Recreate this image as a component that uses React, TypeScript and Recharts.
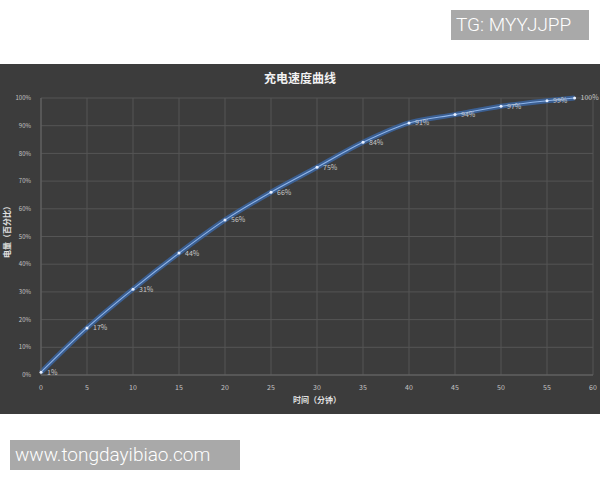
import React from 'react';
import { LineChart, Line, XAxis, YAxis, CartesianGrid, LabelList } from 'recharts';

const minutes = [0, 5, 10, 15, 20, 25, 30, 35, 40, 45, 50, 55, 58];
const charge = [1, 17, 31, 44, 56, 66, 75, 84, 91, 94, 97, 99, 100];
const xTicks = [0, 5, 10, 15, 20, 25, 30, 35, 40, 45, 50, 55, 60];
const yTicks = [0, 10, 20, 30, 40, 50, 60, 70, 80, 90, 100];
const title = '充电速度曲线';
const xLabel = '时间（分钟）';
const yLabel = '电量（百分比）';
const topTag = 'TG: MYYJJPP';
const bottomTag = 'www.tongdayibiao.com';

const data = minutes.map((m, i) => ({ m, v: charge[i] }));

const cjk = '"Noto Sans CJK SC", "Noto Sans", sans-serif';

const Dot = (props: any) => {
  const { cx, cy } = props;
  if (cx == null || cy == null) return null;
  return <circle cx={cx} cy={cy} r={1.5} fill="#e8f0ff" stroke="none" />;
};

const tagStyle: React.CSSProperties = {
  position: 'absolute',
  height: 30,
  background: '#a9a9a9',
  color: '#fff',
  fontFamily: 'Roboto, "Liberation Sans", sans-serif',
  fontWeight: 300,
  fontSize: 19,
  lineHeight: '30px',
  paddingLeft: 5,
  boxSizing: 'border-box',
  whiteSpace: 'nowrap',
};

export default function App() {
  return (
    <div style={{ position: 'absolute', left: 0, top: 0, width: 600, height: 480, background: '#fff', overflow: 'hidden' }}>
      <div style={{ ...tagStyle, left: 451, top: 10, width: 138 }}>{topTag}</div>
      <div style={{ ...tagStyle, left: 10, top: 440, width: 230 }}>{bottomTag}</div>
      <div style={{ position: 'absolute', left: 0, top: 64, width: 600, height: 350, background: '#3c3c3c' }}>
        <div style={{ position: 'absolute', left: 0, top: 5, width: 600, textAlign: 'center', color: '#f2f2f2', fontFamily: cjk, fontWeight: 700, fontSize: 12 }}>{title}</div>
        <div style={{ position: 'absolute', left: 7, top: 166, width: 0, height: 0 }}>
          <div style={{ position: 'absolute', left: 0, top: 0, transform: 'translate(-50%, -50%) rotate(-90deg)', color: '#e0e0e0', fontFamily: cjk, fontWeight: 700, fontSize: 8, whiteSpace: 'nowrap', lineHeight: '10px' }}>{yLabel}</div>
        </div>
        <LineChart width={600} height={350} data={data} margin={{ top: 34, right: 7, left: 0, bottom: 0 }}>
          <CartesianGrid stroke="#555555" strokeWidth={1} horizontal vertical />
          <XAxis
            dataKey="m"
            type="number"
            domain={[0, 60]}
            ticks={xTicks}
            height={39}
            axisLine={{ stroke: '#666' }}
            tickLine={false}
            tick={{ fill: '#c4c4c4', fontSize: 7, fontFamily: cjk }}
            tickMargin={4}
            label={{ value: xLabel, position: 'insideBottom', offset: 11, fill: '#e0e0e0', fontSize: 8, fontWeight: 700, fontFamily: cjk }}
          />
          <YAxis
            type="number"
            domain={[0, 100]}
            ticks={yTicks}
            width={41}
            axisLine={{ stroke: '#666' }}
            tickLine={false}
            tick={{ fill: '#c4c4c4', fontSize: 6, fontFamily: cjk }}
            tickMargin={4}
            tickFormatter={(v: number) => `${v}%`}
          />
          <Line type="monotone" dataKey="v" stroke="#3b68a8" strokeOpacity={0.8} strokeWidth={5} dot={false} activeDot={false} isAnimationActive={false} />
          <Line type="monotone" dataKey="v" stroke="#8fb5ea" strokeWidth={1.1} dot={<Dot />} activeDot={false} isAnimationActive={false}>
            <LabelList dataKey="v" position="right" offset={6} formatter={(v: any) => `${v}%`} style={{ fill: '#c8c8c8', fontSize: 7, fontFamily: cjk }} />
          </Line>
        </LineChart>
      </div>
    </div>
  );
}
